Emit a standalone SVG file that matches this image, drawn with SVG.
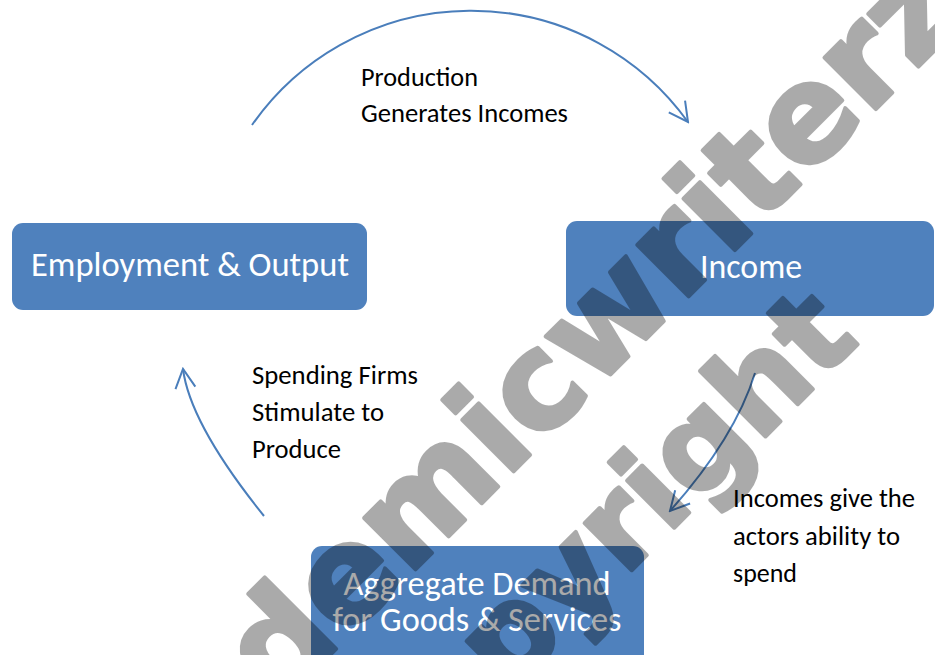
<svg xmlns="http://www.w3.org/2000/svg" width="935" height="655" viewBox="0 0 935 655">
  <style>
    .box { fill: #4f81bd; }
    .box-text { font-family: "Carlito", "Open Sans", "Liberation Sans", sans-serif; font-size: 34.5px; fill: #ffffff; text-anchor: middle; }
    .label { font-family: "Carlito", "Open Sans", "Liberation Sans", sans-serif; font-size: 26.5px; fill: #000000; }
    .flow { fill: none; stroke: #4a7ebb; stroke-width: 2; marker-end: url(#chevron); }
    .mark { font-family: "DejaVu Sans", Verdana, sans-serif; font-weight: bold; fill: #000000; stroke: #000000; stroke-width: 4; stroke-linejoin: round; }
  </style>
  <defs>
    <marker id="chevron" viewBox="-22 -12 24 24" refX="0" refY="0" markerWidth="24" markerHeight="24" markerUnits="userSpaceOnUse" orient="auto">
      <path d="M-19,-10 L0,0 L-19,10" fill="none" stroke="#4a7ebb" stroke-width="2"/>
    </marker>
  </defs>

  <rect width="935" height="655" fill="#ffffff"/>

  <!-- cycle stages -->
  <g id="employment-output">
    <rect class="box" x="12" y="223" width="355" height="87" rx="11"/>
    <text class="box-text" x="190" y="276" textLength="318" lengthAdjust="spacingAndGlyphs">Employment &amp; Output</text>
  </g>
  <g id="income">
    <rect class="box" x="566" y="221" width="368" height="95" rx="11"/>
    <text class="box-text" x="751" y="278" textLength="102" lengthAdjust="spacingAndGlyphs">Income</text>
  </g>
  <g id="aggregate-demand">
    <rect class="box" x="311" y="546" width="333" height="130" rx="11"/>
    <text class="box-text" x="477" y="595" textLength="267" lengthAdjust="spacingAndGlyphs">Aggregate Demand</text>
    <text class="box-text" x="477" y="631" textLength="289" lengthAdjust="spacingAndGlyphs">for Goods &amp; Services</text>
  </g>

  <!-- flows between stages -->
  <g id="connectors">
    <path class="flow" d="M252,125 A267,267 0 0 1 688,122"/>
    <path class="flow" d="M755,373 Q735,438 670,511"/>
    <path class="flow" d="M264,516 Q190,424 183,369"/>
  </g>

  <!-- flow labels -->
  <g id="labels">
    <text class="label" x="361" y="86" textLength="117" lengthAdjust="spacingAndGlyphs">Production</text>
    <text class="label" x="361" y="122" textLength="207" lengthAdjust="spacingAndGlyphs">Generates Incomes</text>
    <text class="label" x="252" y="384" textLength="166" lengthAdjust="spacingAndGlyphs">Spending Firms</text>
    <text class="label" x="252" y="421" textLength="132" lengthAdjust="spacingAndGlyphs">Stimulate to</text>
    <text class="label" x="252" y="458" textLength="89" lengthAdjust="spacingAndGlyphs">Produce</text>
    <text class="label" x="733" y="507" textLength="182" lengthAdjust="spacingAndGlyphs">Incomes give the</text>
    <text class="label" x="733" y="545" textLength="167" lengthAdjust="spacingAndGlyphs">actors ability to</text>
    <text class="label" x="733" y="582" textLength="64" lengthAdjust="spacingAndGlyphs">spend</text>
  </g>

  <!-- watermark overlay, composited as one translucent layer -->
  <g id="watermark" opacity="0.33">
    <text class="mark" font-size="133" transform="translate(94,891) rotate(-45)">academicwriterz</text>
    <text class="mark" font-size="122" transform="translate(396,806) rotate(-45)">copyright</text>
  </g>
</svg>
